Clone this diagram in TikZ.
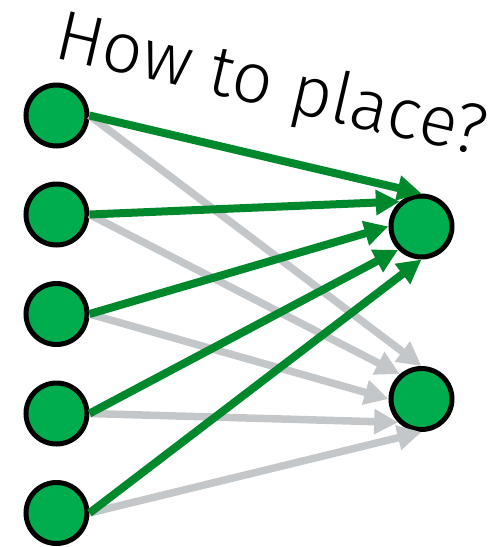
\documentclass[tikz,border=0pt]{standalone}
\usepackage{fontspec}
\newfontfamily\lightfont{Fira Sans Light}
\usetikzlibrary{arrows.meta}
\definecolor{nodegreen}{RGB}{0,173,78}
\definecolor{edgegreen}{RGB}{0,136,45}
\definecolor{edgegray}{RGB}{196,199,201}
\tikzset{
  unit/.style={circle,draw=black,line width=5pt,fill=nodegreen,minimum size=61pt,inner sep=0pt},
  garrow/.style={draw=edgegreen,line width=8pt,-{Triangle[length=24pt,width=24pt]}},
  grayarrow/.style={draw=edgegray,line width=7.5pt,-{Triangle[length=24pt,width=24pt]}},
  title/.style={font=\lightfont\fontsize{71}{71}\selectfont,rotate=-13,inner sep=0pt,anchor=base west}
}
\begin{document}
\begin{tikzpicture}[x=1pt,y=-1pt]
\useasboundingbox (0,0) rectangle (496,547);
\node[title] (t) at (52,57) {How to place?};
\node[unit] (l1) at (56.5,115.5) {};
\node[unit] (l2) at (56.5,214.5) {};
\node[unit] (l3) at (56.5,314) {};
\node[unit] (l4) at (56.5,413.5) {};
\node[unit] (l5) at (56.5,513) {};
\node[unit] (r1) at (421.5,226.5) {};
\node[unit] (r2) at (421.5,399) {};
\draw[grayarrow] (l1.east) -- (r2.north);
\draw[grayarrow] (l2.east) -- (r2.131);
\draw[grayarrow] (l3.east) -- (r2.west);
\draw[grayarrow] (l4.east) -- (r2.225);
\draw[grayarrow] (l5.east) -- (r2.south);
\draw[garrow] (l1.east) -- (r1.north);
\draw[garrow] (l2.east) -- (r1.131);
\draw[garrow] (l3.east) -- (r1.west);
\draw[garrow] (l4.east) -- (r1.225);
\draw[garrow] (l5.east) -- (r1.south);
\end{tikzpicture}
\end{document}
